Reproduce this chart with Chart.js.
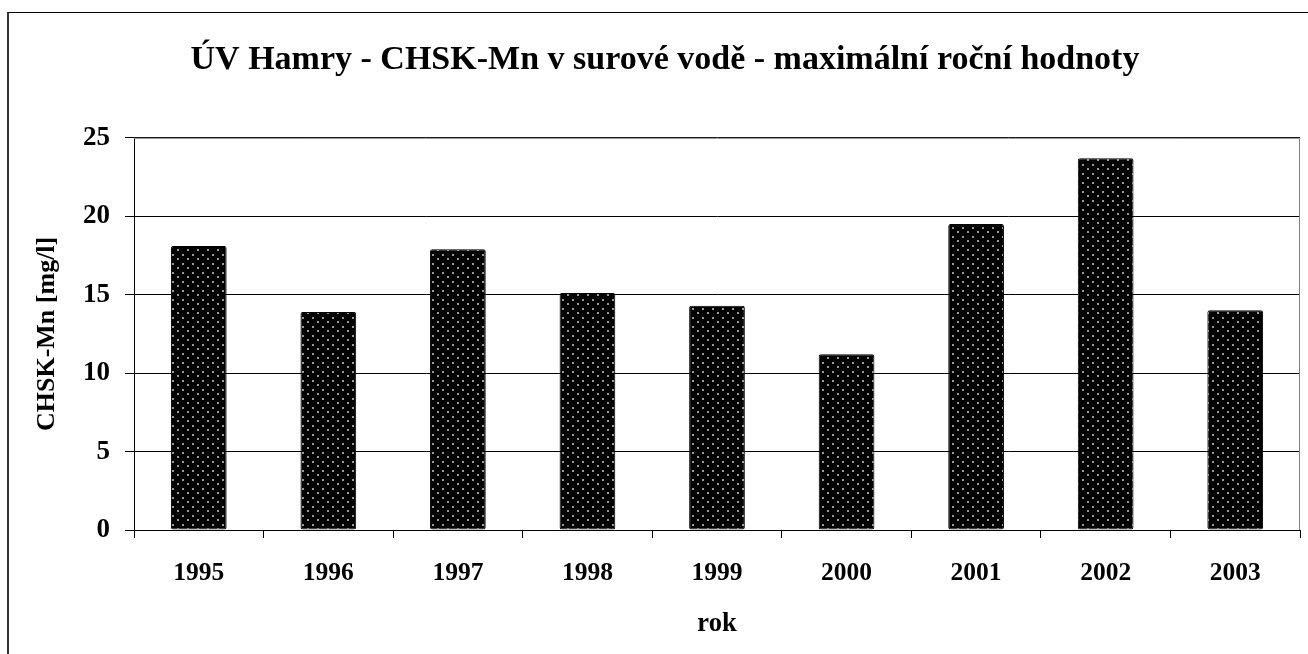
<!DOCTYPE html>
<html>
<head>
<meta charset="utf-8">
<title>ÚV Hamry - CHSK-Mn</title>
<script src="https://cdn.jsdelivr.net/npm/chart.js"></script>
<style>
body{margin:0;background:#fff;overflow:hidden;}
.wrap{position:relative;width:1308px;height:654px;}
.frame{position:absolute;left:7px;top:12px;right:-10px;bottom:-10px;border-left:2px solid #333;border-top:1px solid #000;pointer-events:none;}
</style>
</head>
<body>
<div class="wrap">
<canvas id="chart"></canvas>
<div class="frame"></div>
</div>

<script>
// data
const years=["1995","1996","1997","1998","1999","2000","2001","2002","2003"];
const maxValues=[18.1,13.9,17.9,15.1,14.3,11.2,19.5,23.7,14.0];
const yMin=0;
const yMax=25;
const yStep=5;

const serif='"Liberation Serif","Times New Roman",serif';

// black fill with grey dots, like the excel pattern
function dotPattern(){
const c=document.createElement("canvas");
c.width=10;c.height=9;
const g=c.getContext("2d");
g.fillStyle="#000";
g.fillRect(0,0,10,9);
g.fillStyle="#999";
g.fillRect(2,2,2,2);
g.fillRect(7,6,2,2);
return g.createPattern(c,"repeat");
}

const plotFrame={
id:"plotFrame",
afterDatasetsDraw(chart){
const a=chart.chartArea;
const ctx=chart.ctx;
ctx.save();
ctx.strokeStyle="#808080";
ctx.lineWidth=1;
ctx.beginPath();
ctx.moveTo(a.left,a.top+0.5);
ctx.lineTo(a.right-0.5,a.top+0.5);
ctx.lineTo(a.right-0.5,a.bottom);
ctx.stroke();
ctx.restore();
}
};

new Chart(document.getElementById("chart"),{
type:"bar",
data:{
labels:years,
datasets:[{
label:"CHSK-Mn",
data:maxValues,
backgroundColor:dotPattern(),
borderColor:"#000",
borderWidth:1,
borderRadius:2,
borderSkipped:false,
barPercentage:0.43,
categoryPercentage:1
}]
},
options:{
responsive:true,
maintainAspectRatio:false,
animation:false,
layout:{padding:{left:30,right:8,top:0,bottom:0}},
plugins:{
legend:{display:false},
tooltip:{enabled:false},
title:{
display:true,
text:"ÚV Hamry - CHSK-Mn v surové vodě - maximální roční hodnoty",
color:"#000",
font:{family:serif,size:34,weight:"bold"},
padding:{top:40,bottom:57}
}
},
scales:{
x:{
offset:true,
grid:{display:true,drawOnChartArea:false,drawTicks:true,tickLength:8,color:"#000",offset:true},
border:{display:true,color:"#000",width:1},
ticks:{color:"#000",font:{family:serif,size:25.5,weight:"bold"},padding:20,maxRotation:0},
title:{display:true,text:"rok",color:"#000",font:{family:serif,size:26.5,weight:"bold"},padding:{top:14,bottom:14}},
afterFit(scale){scale.height=124;}
},
y:{
min:yMin,
max:yMax,
grid:{color:"#000",lineWidth:1,tickLength:9,drawTicks:true},
border:{display:true,color:"#000",width:1},
ticks:{stepSize:yStep,color:"#000",font:{family:serif,size:27,weight:"bold"},padding:15},
title:{display:true,text:"CHSK-Mn [mg/l]",color:"#000",font:{family:serif,size:26,weight:"bold"},padding:{top:2,bottom:2}},
afterFit(scale){scale.width=104;}
}
}
},
plugins:[plotFrame]
});
</script>
</body>
</html>
